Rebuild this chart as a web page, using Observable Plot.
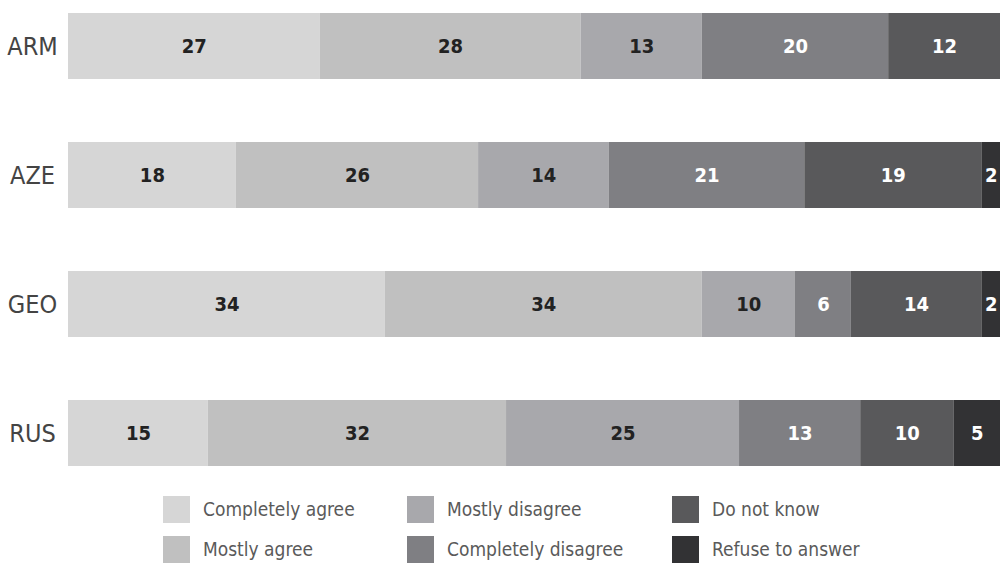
<!DOCTYPE html>
<html><head><meta charset="utf-8">
<script src="https://cdn.jsdelivr.net/npm/d3@7"></script>
<script src="https://cdn.jsdelivr.net/npm/@observablehq/plot@0.6"></script>
<style>
body{margin:0;background:#fff;font-family:"DejaVu Sans Condensed","Liberation Sans Narrow",sans-serif;font-stretch:condensed;}
#wrap{position:relative;width:1001px;height:566px;}
#legend{position:absolute;left:0;top:480px;width:1001px;height:86px;}
.item{position:absolute;display:flex;align-items:center;font-size:19px;color:#5a5a5a;}
.sw{width:27px;height:27px;margin-right:13px;}
svg text{font-stretch:condensed;}
</style></head>
<body><div id="wrap"><div id="chart"></div><div id="legend"></div></div>
<script>
const countries = ["ARM","AZE","GEO","RUS"];
const categories = ["Completely agree","Mostly agree","Mostly disagree","Completely disagree","Do not know","Refuse to answer"];
const colors = ["#d6d6d6","#c0c0c0","#a8a8ac","#7f7f83","#59595b","#323234"];
const textColors = ["#222","#222","#222","#fff","#fff","#fff"];
const ARM = [27,28,13,20,12,0];
const AZE = [18,26,14,21,19,2];
const GEO = [34,34,10,6,14,2];
const RUS = [15,32,25,13,10,5];
const seriesValues = {ARM, AZE, GEO, RUS};

const data = [];
countries.forEach(c => categories.forEach((k,i) => {
  const v = seriesValues[c][i];
  if (v > 0) data.push({country:c, category:k, value:v, tc:textColors[i]});
}));

const stackOpts = {x:"value", y:"country", z:"category", order: categories};

const plot = Plot.plot({
  width:1001, height:480,
  marginLeft:68, marginRight:1, marginTop:11, marginBottom:13,
  style:{fontFamily:'"DejaVu Sans Condensed","Liberation Sans Narrow",sans-serif', background:"#fff"},
  x:{domain:[0,100], axis:null},
  y:{domain:countries, padding:0.49, paddingOuter:0, label:null},
  color:{domain:categories, range:colors},
  marks:[
    Plot.barX(data, Plot.stackX({...stackOpts, fill:"category"})),
    Plot.text(data, Plot.stackX({...stackOpts, text:"value", fill:"tc", fontSize:20, fontWeight:"bold"})),
    Plot.axisY({tickSize:0, tickPadding:36, textAnchor:"middle", fontSize:25, color:"#444", label:null})
  ]
});
document.getElementById("chart").appendChild(plot);

const legendPos = [[163,29],[163,69],[407,29],[407,69],[672,29],[672,69]];
const leg = document.getElementById("legend");
categories.forEach((k,i) => {
  const d = document.createElement("div");
  d.className = "item";
  d.style.left = legendPos[i][0] + "px";
  d.style.top = (legendPos[i][1] - 13.5) + "px";
  d.innerHTML = `<div class="sw" style="background:${colors[i]}"></div><span>${k}</span>`;
  leg.appendChild(d);
});
</script></body></html>
